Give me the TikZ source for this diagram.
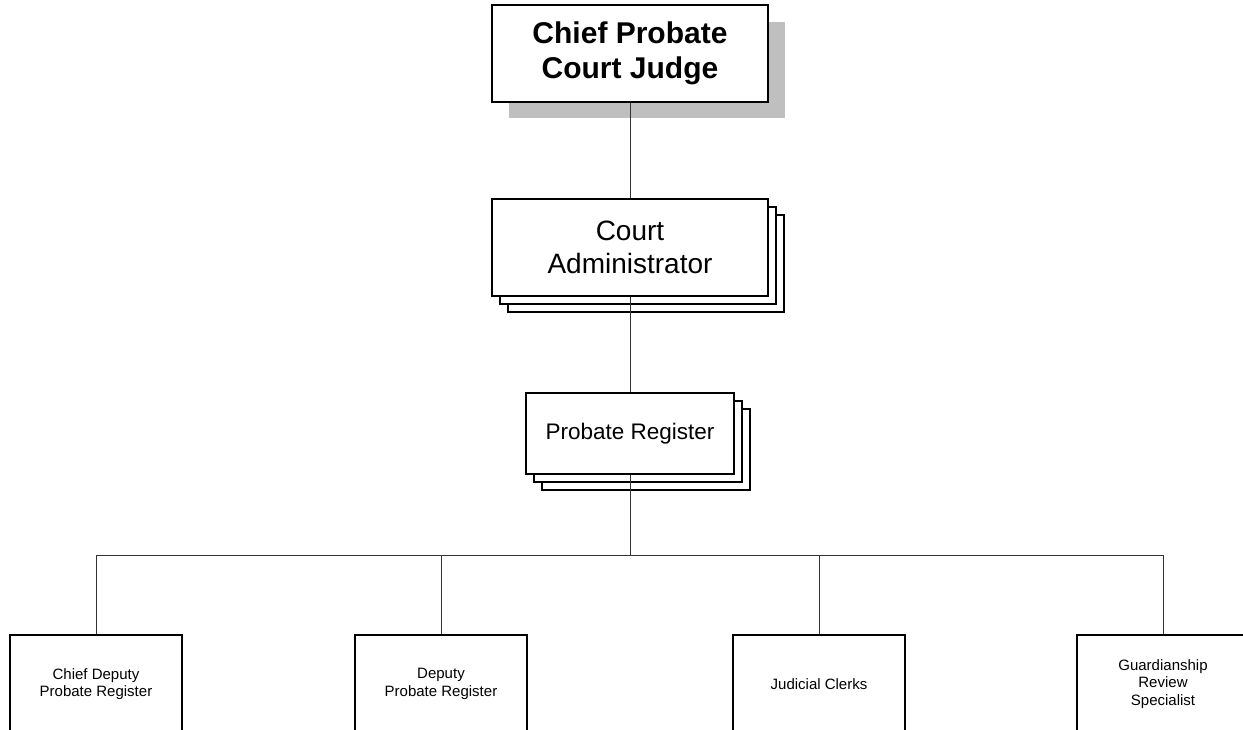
\documentclass[tikz,border=0pt]{standalone}
\usepackage{fontspec}
\setmainfont{Liberation Sans}
\begin{document}
\begin{tikzpicture}[x=1pt,y=-1pt,
  box/.style={draw=black,line width=1.5pt,fill=white,inner sep=0pt,align=center,rectangle},
  conn/.style={draw=black!80,line width=1pt},
  stackbox/.style={draw=black,line width=1.5pt,fill=white}]
\useasboundingbox (0,0) rectangle (1243,730);
\clip (0,0) rectangle (1243,730);
% shadow of top box
\fill[black!25] (509,22) rectangle (785,118);
\node[box,minimum width=276pt,minimum height=97pt,font=\fontsize{30}{35}\selectfont\bfseries] (judge) at (630,53.5) {Chief Probate\\Court Judge};
% court administrator stack
\draw[stackbox] (508,215) rectangle (784,312);
\draw[stackbox] (500,207) rectangle (776,304);
\node[box,minimum width=276pt,minimum height=97pt,font=\fontsize{28}{33}\selectfont] (admin) at (630,247.5) {Court\\Administrator};
% probate register stack
\draw[stackbox] (542,409) rectangle (750,490);
\draw[stackbox] (534,401) rectangle (742,482);
\node[box,minimum width=208pt,minimum height=81pt,font=\fontsize{22.5}{27}\selectfont] (reg) at (630,433.5) {Probate Register};
% bottom boxes
\tikzset{small/.style={box,minimum width=172pt,minimum height=98pt,font=\fontsize{15}{17.5}\selectfont}}
\node[small] (c1) at (96,684) {Chief Deputy\\Probate Register};
\node[small] (c2) at (441,684) {Deputy\\Probate Register};
\node[small] (c3) at (819,684) {Judicial Clerks};
\node[small] (c4) at (1163,684) {Guardianship\\Review\\Specialist};
% connectors
\coordinate (bus) at (630,555);
\draw[conn] (judge.south) -- (admin.north);
\draw[conn] (admin.south) -- (reg.north);
\draw[conn] (reg.south) -- (bus);
\draw[conn] (c1.north) |- (bus);
\draw[conn] (c2.north) |- (bus);
\draw[conn] (c3.north) |- (bus);
\draw[conn] (c4.north) |- (bus);
\end{tikzpicture}
\end{document}
